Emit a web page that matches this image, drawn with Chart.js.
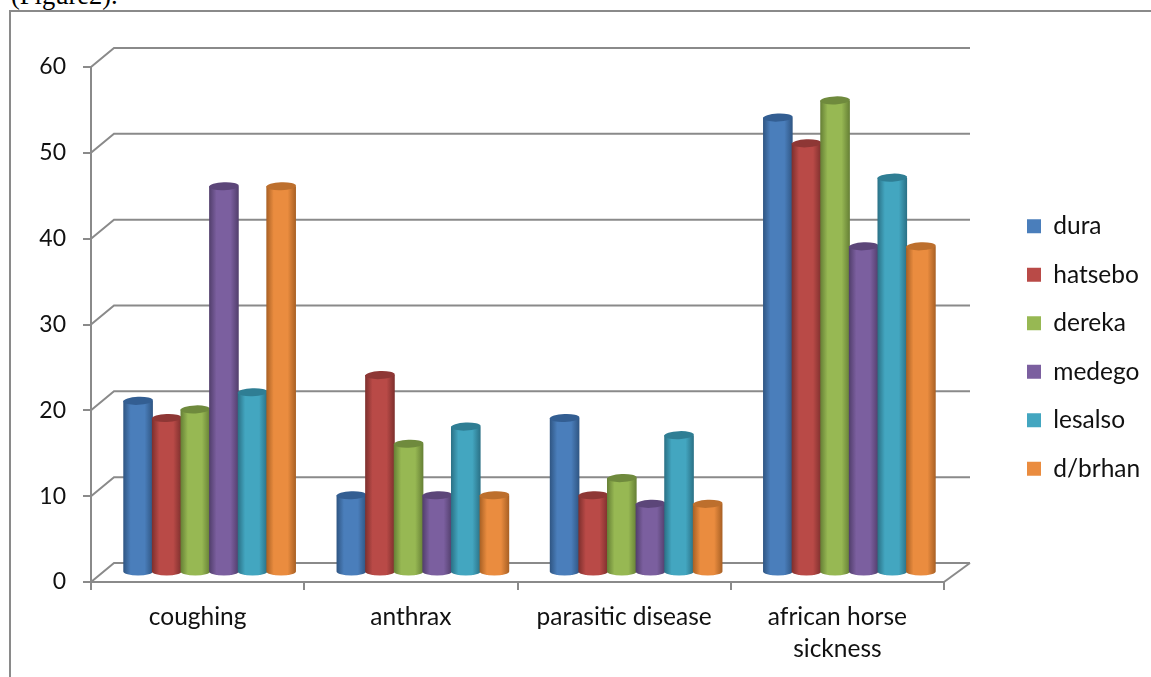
<!DOCTYPE html>
<html>
<head>
<meta charset="utf-8">
<style>
  html, body { margin: 0; padding: 0; background: #fff; overflow: hidden; }
  #caption { position: absolute; left: 11px; top: -20px; font: 26.5px "Liberation Serif", serif; color: #000; }
  canvas { position: absolute; left: 0; top: 0; }
</style>
<script src="https://cdn.jsdelivr.net/npm/chart.js@4/dist/chart.umd.js"></script>
</head>
<body>
<div id="caption">(Figure2).</div>
<canvas id="diseaseChart" width="1151" height="677"></canvas>
<script>
const categories = ['coughing', 'anthrax', 'parasitic disease', ['african horse', 'sickness']];
const dura = [20, 9, 18, 53];
const hatsebo = [18, 23, 9, 50];
const dereka = [19, 15, 11, 55];
const medego = [45, 9, 8, 38];
const lesalso = [21, 17, 16, 46];
const dbrhan = [45, 9, 8, 38];

const axisColor = '#8a8a8a';
const fontName = 'Lato, sans-serif';
const depthX = 23, depthY = 19;

function cylinderColors(base, edge, top) {
    return { base: base, edge: edge, top: top };
}

const dura_c = cylinderColors('#4a7ebb', '#2f5582', '#335e92');
const hatsebo_c = cylinderColors('#b94a47', '#7d2f2d', '#8e3735');
const dereka_c = cylinderColors('#97b853', '#657f35', '#6f8a3d');
const medego_c = cylinderColors('#7b5f9f', '#513e6b', '#5c4679');
const lesalso_c = cylinderColors('#43a6c0', '#2a7085', '#2f7e94');
const dbrhan_c = cylinderColors('#ea8c3f', '#a86024', '#bd6f2d');

function series(label, data, c) {
    return {
        label: label,
        data: data,
        backgroundColor: c.base,
        borderWidth: 0,
        cylinder: c
    };
}

// back wall and side wall, drawn behind the bars
const wallPlugin = {
    id: 'wall',
    beforeDatasetsDraw(chart) {
        const ctx = chart.ctx;
        const y = chart.scales.y;
        const area = chart.chartArea;
        ctx.save();
        ctx.strokeStyle = axisColor;
        ctx.lineWidth = 2;
        y.ticks.forEach(t => {
            const py = y.getPixelForValue(t.value);
            ctx.beginPath();
            ctx.moveTo(area.left, py);
            ctx.lineTo(area.left + depthX, py - depthY);
            ctx.lineTo(area.right + 26, py - depthY);
            ctx.stroke();
        });
        ctx.beginPath();
        ctx.moveTo(area.right, area.bottom);
        ctx.lineTo(area.right + 26, area.bottom - depthY);
        ctx.stroke();
        // outer frame of the picture
        ctx.beginPath();
        ctx.moveTo(10, 677);
        ctx.lineTo(10, 11);
        ctx.lineTo(1151, 11);
        ctx.stroke();
        ctx.restore();
    }
};

function drawCylinder(ctx, bar, c) {
    const w = bar.width + 1;
    const left = bar.x + 12 - w / 2;
    const right = left + w;
    const cx = (left + right) / 2;
    const top = bar.y - 9.5;
    const bottom = bar.base - 9.5;
    const ry = 4;

    const grad = ctx.createLinearGradient(left, 0, right, 0);
    grad.addColorStop(0, c.edge);
    grad.addColorStop(0.25, c.base);
    grad.addColorStop(0.72, c.base);
    grad.addColorStop(1, c.edge);

    ctx.fillStyle = grad;
    ctx.beginPath();
    ctx.moveTo(left, top);
    ctx.lineTo(left, bottom);
    ctx.ellipse(cx, bottom, w / 2, ry, 0, Math.PI, 0, true);
    ctx.lineTo(right, top);
    ctx.closePath();
    ctx.fill();

    ctx.fillStyle = c.top;
    ctx.beginPath();
    ctx.ellipse(cx, top, w / 2, ry, -0.04, 0, Math.PI * 2);
    ctx.fill();
}

const cylinderPlugin = {
    id: 'cylinder',
    beforeDatasetDraw() {
        return false;
    },
    afterDatasetsDraw(chart) {
        const ctx = chart.ctx;
        ctx.save();
        chart.data.datasets.forEach((ds, i) => {
            chart.getDatasetMeta(i).data.forEach(bar => drawCylinder(ctx, bar, ds.cylinder));
        });
        ctx.restore();
    }
};

// legend sits further right than the plot area ends
const legendPlugin = {
    id: 'legendPlace',
    afterLayout(chart) {
        const legend = chart.legend;
        legend.left = 1003;
        legend.right = legend.left + legend.width;
        legend.top = 190;
        legend.bottom = legend.top + legend.height;
    }
};

new Chart(document.getElementById('diseaseChart').getContext('2d'), {
    type: 'bar',
    data: {
        labels: categories,
        datasets: [
            series('dura', dura, dura_c),
            series('hatsebo', hatsebo, hatsebo_c),
            series('dereka', dereka, dereka_c),
            series('medego', medego, medego_c),
            series('lesalso', lesalso, lesalso_c),
            series('d/brhan', dbrhan, dbrhan_c)
        ]
    },
    options: {
        responsive: false,
        animation: false,
        layout: { padding: { top: 67, right: 67, left: 0, bottom: 0 } },
        datasets: { bar: { categoryPercentage: 0.805, barPercentage: 1 } },
        plugins: {
            title: { display: false },
            tooltip: { enabled: false },
            legend: {
                position: 'right',
                align: 'start',
                maxWidth: 140,
                labels: {
                    boxWidth: 14,
                    boxHeight: 14,
                    padding: 24,
                    color: '#111',
                    font: { family: fontName, size: 24.5 }
                }
            }
        },
        scales: {
            x: {
                afterFit(scale) { scale.height = 95; },
                grid: { drawOnChartArea: false, drawTicks: true, tickLength: 8, color: axisColor, lineWidth: 2 },
                border: { color: axisColor, width: 2 },
                ticks: { color: '#111', padding: 11, maxRotation: 0, font: { family: fontName, size: 24.5, lineHeight: 1.3 } }
            },
            y: {
                min: 0,
                max: 60,
                afterFit(scale) { scale.width = 91; },
                grid: { drawOnChartArea: false, drawTicks: true, tickLength: 8, color: axisColor, lineWidth: 2 },
                border: { color: axisColor, width: 2 },
                ticks: { stepSize: 10, color: '#111', padding: 17, font: { family: fontName, size: 23 } }
            }
        }
    },
    plugins: [wallPlugin, cylinderPlugin, legendPlugin]
});
</script>
</body>
</html>
